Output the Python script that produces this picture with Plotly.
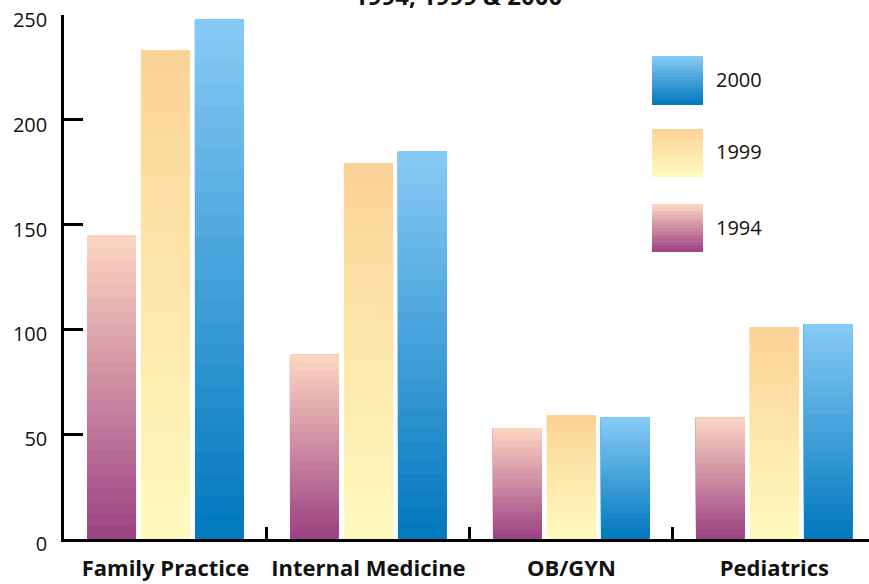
import plotly.graph_objects as go

categories = ["Family Practice", "Internal Medicine", "OB/GYN", "Pediatrics"]
years = ["1994", "1999", "2000"]
values_1994 = [145, 88, 53, 58]
values_1999 = [233, 179, 59, 101]
values_2000 = [248, 185, 58, 102.5]
series_values = [values_1994, values_1999, values_2000]
y_tick_values = [0, 50, 100, 150, 200, 250]

# gradient colours (bottom, top) for each series
grad = {
    "1994": ((156, 64, 131), (253, 215, 193)),
    "1999": ((255, 250, 190), (252, 210, 150)),
    "2000": ((0, 119, 189), (136, 203, 246)),
}
N = 24


def mix(c0, c1, t):
    return "rgb(%d,%d,%d)" % tuple(round(a + (b - a) * t) for a, b in zip(c0, c1))


fig = go.Figure()
for yr, vals in zip(years, series_values):
    c0, c1 = grad[yr]
    for i in range(N):
        # each band runs from its own base up to the bar's top; later bands paint over
        base = [v * i / N for v in vals]
        seg = [v - b for v, b in zip(vals, base)]
        fig.add_trace(go.Bar(
            x=categories, y=seg, base=base,
            offsetgroup=yr,
            marker=dict(color=mix(c0, c1, (i + 0.5) / N), line=dict(width=0)),
            showlegend=False, hoverinfo="skip",
        ))

W, H = 869, 584
# plot area in pixels
PL, PR, PT, PB = 64, 869, 15, 539
PW, PH = PR - PL, PB - PT

shapes = []
annotations = []
legend_boxes = {"2000": (56, 105), "1999": (129, 177), "1994": (204, 252)}
M = 14
for yr, (ytop, ybot) in legend_boxes.items():
    c0, c1 = grad[yr]
    x0, x1 = 652, 703
    for i in range(M):
        yb = ybot - (ybot - ytop) * i / M
        yt = ybot - (ybot - ytop) * (i + 1.15) / M
        shapes.append(dict(type="rect", xref="paper", yref="paper",
                           x0=(x0 - PL) / PW, x1=(x1 - PL) / PW,
                           y0=(PB - yb) / PH, y1=(PB - max(yt, ytop)) / PH,
                           fillcolor=mix(c0, c1, (i + 0.5) / M), line=dict(width=0), layer="above"))
    annotations.append(dict(xref="paper", yref="paper", x=(714 - PL) / PW,
                            y=(PB - (ytop + ybot) / 2 + 1) / PH, text=yr, showarrow=False,
                            xanchor="left", yanchor="middle",
                            font=dict(size=20, color="#111", family="Open Sans")))

annotations.append(dict(xref="paper", yref="paper", x=(458 - PL) / PW, y=(PB + 4) / PH,
                        text="<b>1994, 1999 &amp; 2000</b>", showarrow=False,
                        xanchor="center", yanchor="middle",
                        font=dict(size=24, color="#111", family="Open Sans")))

fig.update_layout(
    width=W, height=H,
    margin=dict(l=PL, r=W - PR, t=PT, b=H - PB, autoexpand=False),
    paper_bgcolor="white", plot_bgcolor="white",
    barmode="group", bargap=0.202, bargroupgap=0.093,
    shapes=shapes, annotations=annotations,
    xaxis=dict(range=[-0.5, 3.466], showgrid=False, showline=True, linecolor="black", linewidth=2.5,
               ticks="inside", tickson="boundaries", ticklen=12, tickwidth=2.5, tickcolor="black",
               tickfont=dict(size=22, family="Open Sans", color="#111", weight="bold"),
               tickangle=0, ticklabelstandoff=8, automargin=False, ticklabeloverflow="allow"),
    yaxis=dict(range=[0, 250], tickvals=y_tick_values, showgrid=False, showline=True,
               linecolor="black", linewidth=2.5, ticks="inside", ticklen=19, tickwidth=2.5,
               tickcolor="black", tickfont=dict(size=20, family="Open Sans", color="#111"),
               ticklabelstandoff=10, ticklabelshift=5, zeroline=False, automargin=False,
               ticklabeloverflow="allow"),
)

# the page body gets no margin so the figure fills the window from its corner
fig.write_html("out.html", config={"displayModeBar": False},
               post_script="document.body.style.margin='0px';")
